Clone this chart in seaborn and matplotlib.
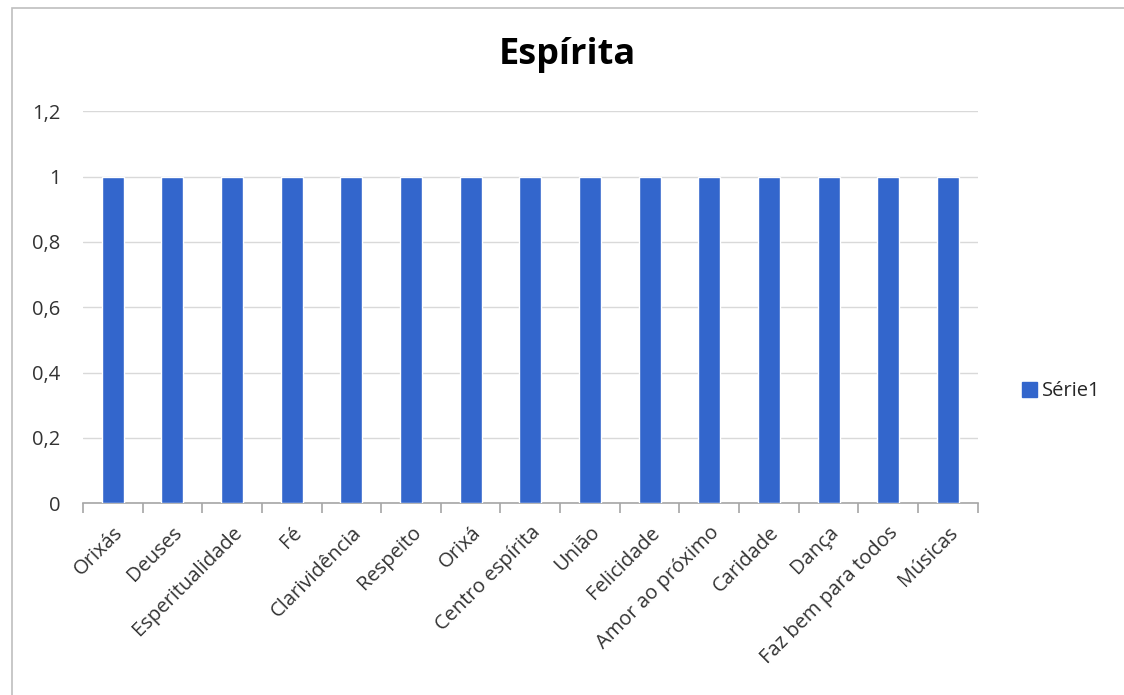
import matplotlib
matplotlib.use("Agg")
import matplotlib.pyplot as plt
from matplotlib.ticker import FuncFormatter, FixedLocator
from matplotlib.patches import Rectangle, Patch
import seaborn as sns
import pandas as pd

categorias = ["Orixás", "Deuses", "Esperitualidade", "Fé", "Clarividência",
              "Respeito", "Orixá", "Centro espírita", "União", "Felicidade",
              "Amor ao próximo", "Caridade", "Dança", "Faz bem para todos", "Músicas"]
serie1 = [1, 1, 1, 1, 1, 1, 1, 1, 1, 1, 1, 1, 1, 1, 1]
y_ticks = [0, 0.2, 0.4, 0.6, 0.8, 1.0, 1.2]

cor_barra = "#3366CC"
cor_grade = "#D9D9D9"

sns.set_theme(style="white")
plt.rcParams['font.family'] = ['Open Sans', 'DejaVu Sans']

df = pd.DataFrame({"categoria": categorias, "valor": serie1})

fig = plt.figure(figsize=(11.24, 6.95), dpi=100)
ax = fig.add_axes([0.0738, 0.276, 0.796, 0.564])

sns.barplot(data=df, x="categoria", y="valor", color=cor_barra, width=0.37,
            saturation=1, ax=ax, zorder=3)

ax.set_xlim(-0.5, len(categorias) - 0.5)
ax.set_ylim(0, 1.2)
ax.set_yticks(y_ticks)
ax.yaxis.set_major_formatter(FuncFormatter(lambda v, p: f"{v:g}".replace(".", ",")))
ax.yaxis.grid(True, color=cor_grade, linewidth=1, zorder=0)
ax.set_xlabel("")
ax.set_ylabel("")

for s in ["top", "right", "left"]:
    ax.spines[s].set_visible(False)
ax.spines["bottom"].set_color("#A6A6A6")
ax.spines["bottom"].set_linewidth(1.2)

ax.tick_params(axis="y", length=0, labelsize=14.5, pad=16, labelcolor="#333333")
ax.set_xticks(range(len(categorias)))
ax.set_xticklabels(categorias, rotation=45, ha="right", rotation_mode="anchor",
                   fontsize=14.5, color="#333333")
ax.tick_params(axis="x", which="major", length=0, pad=14)
ax.xaxis.set_minor_locator(FixedLocator([i - 0.5 for i in range(len(categorias) + 1)]))
ax.tick_params(axis="x", which="minor", bottom=True, length=7, width=1.2,
               color="#A6A6A6", direction="out")

fig.text(0.505, 0.921, "Espírita", ha="center", va="center",
         fontsize=26, fontweight="bold", color="black")

handles = [Patch(facecolor=cor_barra, edgecolor=cor_barra, label="Série1")]
fig.legend(handles=handles, loc="center left", bbox_to_anchor=(0.893, 0.437),
           frameon=False, fontsize=14.5, handlelength=0.75, handleheight=0.75,
           handletextpad=0.25)

# moldura do gráfico
fig.add_artist(Rectangle((0.0107, -0.01), 1.2, 0.999, transform=fig.transFigure,
                         fill=False, edgecolor="#BFBFBF", linewidth=1.2))

fig.savefig("out.png", dpi=100, facecolor="white")
